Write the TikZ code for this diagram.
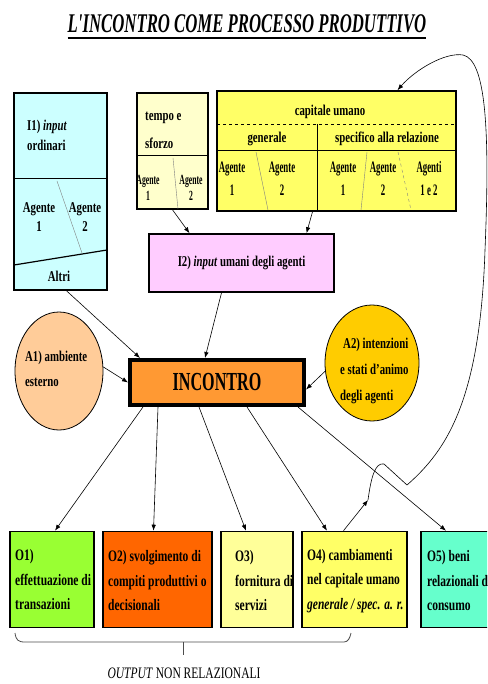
\documentclass[tikz,border=0pt]{standalone}
\usepackage{fontspec}
\setmainfont{Liberation Serif}[FakeStretch=0.72]
\newfontfamily\strettofont{Liberation Serif}[FakeStretch=0.55]
\newfontfamily\titolofont{Liberation Serif}[FakeStretch=0.62]
\usepackage{tikz}
\usetikzlibrary{arrows.meta,shapes.geometric,calc}
\definecolor{cianoinput}{HTML}{CCFFFF}
\definecolor{giallotempo}{HTML}{FFFFCC}
\definecolor{giallocapitale}{HTML}{FFFF66}
\definecolor{rosainput}{HTML}{FFCCFF}
\definecolor{arancioincontro}{HTML}{FF9933}
\definecolor{pescaambiente}{HTML}{FFCC99}
\definecolor{orointenzioni}{HTML}{FFCC00}
\definecolor{verdeoutput}{HTML}{99FF33}
\definecolor{aranciocompiti}{HTML}{FF6600}
\definecolor{giallofornitura}{HTML}{FFFF99}
\definecolor{acquabeni}{HTML}{66FFCC}

\begin{document}
\begin{tikzpicture}[x=1pt,y=-1pt,
	every node/.style={font=\bfseries\fontsize{15}{20}\selectfont, inner sep=0pt},
	box/.style={draw=black, line width=1.6pt},
	cella/.style={align=left, anchor=west},
	agente/.style={font=\strettofont\bfseries\fontsize{16}{23}\selectfont, align=center},
	outtxt/.style={cella, font=\bfseries\fontsize{16}{24.5}\selectfont},
	divisore/.style={draw=gray, line width=0.4pt},
	freccia/.style={-{Latex[length=6pt,width=4.5pt]}, line width=0.6pt}]
	\useasboundingbox (0,0) rectangle (487,684);
	\clip (0,0) rectangle (487,684);
	
	% titolo
	\node[font=\titolofont\bfseries\itshape\fontsize{27}{30}\selectfont, anchor=base] (titolo) at (247,33) {L'INCONTRO COME PROCESSO PRODUTTIVO};
	\draw[line width=1.8pt] ([yshift=-5pt]titolo.base west) -- ([yshift=-5pt]titolo.base east);
	
	% I1) input ordinari
	\node[box, fill=cianoinput, minimum width=93pt, minimum height=197pt] (I1) at (60.5,191.5) {};
	\draw[line width=1pt] (14,179) -- (107,179);
	\draw[line width=1.2pt] (14,265) -- (107,250);
	\draw[divisore] (57,181) -- (82,253);
	\node[cella] (I1tit) at (27,135) {I1) \textit{input}\\ordinari};
	\node[align=center, font=\bfseries\fontsize{15}{19}\selectfont] (I1ag1) at (39,217) {Agente\\1};
	\node[align=center, font=\bfseries\fontsize{15}{19}\selectfont] (I1ag2) at (85,217) {Agente\\2};
	\node (I1altri) at (59,276) {Altri};
	
	% tempo e sforzo
	\node[box, fill=giallotempo, minimum width=71pt, minimum height=116pt] (T) at (172.5,151) {};
	\draw[line width=1pt] (137,156) -- (208,156);
	\draw[divisore] (173,158) -- (178,209);
	\node[cella, font=\bfseries\fontsize{15}{28}\selectfont] (Ttit) at (145,130) {tempo e\\sforzo};
	\node[agente, font=\strettofont\bfseries\fontsize{14}{16}\selectfont] (Tag1) at (148,188) {Agente\\1};
	\node[agente, font=\strettofont\bfseries\fontsize{14}{16}\selectfont] (Tag2) at (191,188) {Agente\\2};
	
	% capitale umano
	\node[box, fill=giallocapitale, minimum width=239pt, minimum height=120pt] (K) at (336.5,151) {};
	\draw[dashed, line width=0.8pt] (217,124) -- (456,124);
	\draw[line width=0.8pt] (217,150) -- (456,150);
	\draw[line width=0.8pt] (317,124) -- (317,211);
	\node (Ktit) at (330,112) {capitale umano};
	\node (Kgen) at (267,139) {generale};
	\node (Kspec) at (387,139) {specifico alla relazione};
	\node[agente] (Kag1) at (232,179) {Agente\\1};
	\node[agente] (Kag2) at (282,179) {Agente\\2};
	\node[agente] (Kag3) at (343,179) {Agente\\1};
	\node[agente] (Kag4) at (383,179) {Agente\\2};
	\node[agente] (Kag5) at (429,179) {Agenti\\1 e 2};
	\draw[divisore] (256,152) -- (268,210);
	\draw[divisore] (367,152) -- (361,210);
	\draw[divisore, dashed] (398,152) -- (411,210);
	
	% I2) input umani
	\node[box, fill=rosainput, minimum width=185pt, minimum height=58pt] (I2) at (241.5,263) {I2) \textit{input} umani degli agenti};
	
	% incontro e ambiente
	\node[box, line width=4pt, fill=arancioincontro, minimum width=174pt, minimum height=45pt, font=\titolofont\bfseries\fontsize{26}{30}\selectfont] (INC) at (217,382.5) {INCONTRO};
	\node[ellipse, draw=black, line width=0.8pt, fill=pescaambiente, minimum width=88pt, minimum height=118pt] (A1) at (59,371) {};
	\node[cella, font=\bfseries\fontsize{15}{25}\selectfont] (A1txt) at (25,368.5) {A1) ambiente\\esterno};
	\node[ellipse, draw=black, line width=0.8pt, fill=orointenzioni, minimum width=94pt, minimum height=116pt] (A2) at (372,363) {};
	\node[cella, font=\bfseries\fontsize{15}{26}\selectfont] (A2txt) at (340,371) {\hspace{3pt}A2) intenzioni\\e stati d'animo\\degli agenti};
	
	% output
	\node[box, fill=verdeoutput, minimum width=84pt, minimum height=96pt] (O1) at (52,579.5) {};
	\node[outtxt] (O1txt) at (15,580) {O1)\\effettuazione di\\transazioni};
	\node[box, fill=aranciocompiti, minimum width=109pt, minimum height=96pt] (O2) at (157.5,579.5) {};
	\node[outtxt] (O2txt) at (108,581) {O2) svolgimento di\\compiti produttivi o\\decisionali};
	\node[box, fill=giallofornitura, minimum width=72pt, minimum height=96pt] (O3) at (257,579.5) {};
	\node[outtxt] (O3txt) at (235,581) {O3)\\fornitura di\\servizi};
	\node[box, fill=giallocapitale, minimum width=105pt, minimum height=96pt] (O4) at (354.5,579.5) {};
	\node[outtxt] (O4txt) at (307,581) {O4) cambiamenti\\nel capitale umano\\\textit{generale / spec. a. r.}};
	\node[box, fill=acquabeni, minimum width=79pt, minimum height=96pt] (O5) at (460.5,579.5) {};
	\node[outtxt] (O5txt) at (427,581) {O5) beni\\relazionali di\\consumo};
	
	% frecce
	\draw[freccia] ([xshift=6pt]I1.south) -- ([xshift=-77pt]INC.north);
	\draw[freccia] (T.south) -- ([xshift=-52pt]I2.north);
	\draw[freccia] ([xshift=-24pt]K.south) -- ([xshift=65pt]I2.north);
	\draw[freccia] ([xshift=-20pt]I2.south) -- ([xshift=-12pt]INC.north);
	\draw[freccia] ([yshift=4pt]A1.east) -- (INC.west);
	\draw[freccia] (A2.190) -- ([yshift=-7pt]INC.east);
	\draw[freccia] ([xshift=-74pt]INC.south) -- ([xshift=3pt]O1.north);
	\draw[freccia] ([xshift=-59pt]INC.south) -- ([xshift=-4pt]O2.north);
	\draw[freccia] ([xshift=-18pt]INC.south) -- ([xshift=-11pt]O3.north);
	\draw[freccia] ([xshift=30pt]INC.south) -- ([xshift=-27.5pt]O4.north);
	\draw[freccia] ([xshift=81pt]INC.south) -- ([xshift=-14.5pt]O5.north);
	
	% ritorno sul capitale umano
	\coordinate (snodo) at (368,500);
	\draw[freccia] ([xshift=-11pt]O4.north) -- (snodo);
	\draw[freccia] (snodo) .. controls (371,478) and (375,462) .. (384,464) -- (407,485) .. controls (447,450) and (480,400) .. (485,250) .. controls (490,130) and (486,60) .. (463,55) .. controls (445,52) and (415,70) .. ([xshift=61pt]K.north);
	
	% parentesi
	\draw[line width=0.8pt, black!70] (15,633) .. controls (16,640) and (18,642) .. (25,642) -- (344,642) .. controls (348,642) and (350,638) .. (351,633);
	\draw[line width=0.8pt, black!70] (183,642) -- (183,655);
	\node[font=\mdseries\fontsize{16}{20}\selectfont] (outnr) at (184,673) {\textit{OUTPUT} NON RELAZIONALI};
\end{tikzpicture}
\end{document}
